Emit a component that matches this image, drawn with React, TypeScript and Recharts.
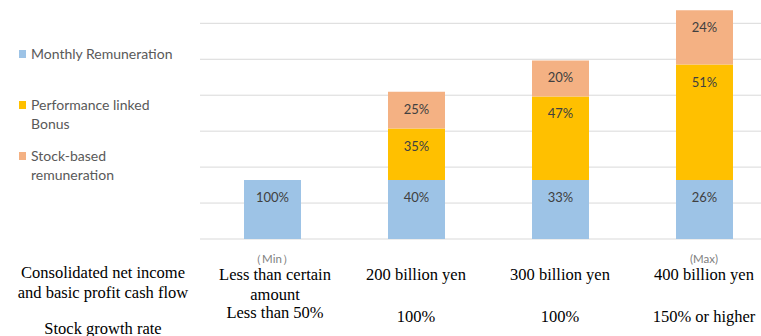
import { Bar, BarChart, CartesianGrid, LabelList, XAxis, YAxis } from "recharts";

// Each bar is drawn to scale against the same monthly amount (=100),
// the labels show each part's share of that bar's total.
const levels = ["min", "200", "300", "400"];
const monthly = [100, 100, 100, 100];
const bonus = [0, 87.5, 142, 196];
const stock = [0, 62.5, 61, 92];
const monthlyPct = [100, 40, 33, 26];
const bonusPct = [null, 35, 47, 51];
const stockPct = [null, 25, 20, 24];

const incomeLines = [["Less than certain", "amount"], ["200 billion yen"], ["300 billion yen"], ["400 billion yen"]];
const growthLabels = ["Less than 50%", "100%", "100%", "150% or higher"];
const markers = ["（Min）", "", "", "(Max)"];
const rowLabels = ["Consolidated net income", "and basic profit cash flow", "Stock growth rate"];

const gridTicks = [0, 61, 122, 183, 244, 305, 366];

const SERIES = [
  { key: "monthly", pct: "monthlyPct", label: "Monthly Remuneration", color: "#9DC3E6" },
  { key: "bonus", pct: "bonusPct", label: "Performance linked Bonus", color: "#FFC000" },
  { key: "stock", pct: "stockPct", label: "Stock-based remuneration", color: "#F4B183" },
];

const data = levels.map((l, i) => ({
  level: l,
  monthly: monthly[i],
  bonus: bonus[i],
  stock: stock[i],
  monthlyPct: monthlyPct[i],
  bonusPct: bonusPct[i],
  stockPct: stockPct[i],
}));

const serif = "'Liberation Serif', 'Times New Roman', serif";
const sans = "Lato, 'Open Sans', sans-serif";

function PctLabel(props: any) {
  const vb = props.viewBox ?? props;
  if (props.value == null) return null;
  return (
    <text
      x={vb.x + vb.width / 2}
      y={vb.y + 17}
      textAnchor="middle"
      dominantBaseline="central"
      fill="#404040"
      fontSize={13}
      fontFamily={sans}
    >
      {props.value}%
    </text>
  );
}

function LevelTick(props: any) {
  const { x, y, index } = props;
  const lines = incomeLines[index];
  const shift = lines.length > 1 ? 3 : 0;
  const growthY = lines.length > 1 ? 73 : 77;
  return (
    <g>
      {markers[index] && (
        <text x={x} y={y + 19} textAnchor="middle" dominantBaseline="central" fill="#808080" fontSize={11.5} fontFamily={sans}>
          {markers[index]}
        </text>
      )}
      {lines.map((t, k) => (
        <text key={k} x={x + shift} y={y + 35 + k * 20} textAnchor="middle" dominantBaseline="central" fill="#000" fontSize={16.5} fontFamily={serif}>
          {t}
        </text>
      ))}
      <text x={x + shift} y={y + growthY} textAnchor="middle" dominantBaseline="central" fill="#000" fontSize={16.5} fontFamily={serif}>
        {growthLabels[index]}
      </text>
    </g>
  );
}

export default function App() {
  return (
    <div style={{ position: "fixed", left: 0, top: 0, width: 761, height: 336, overflow: "hidden", background: "#fff" }}>
      <BarChart width={776} height={336} data={data} margin={{ top: 8, right: 0, left: 200, bottom: 0 }} barSize={57}>
        <CartesianGrid vertical={false} stroke="#D9D9D9" horizontalValues={gridTicks} />
        <YAxis hide domain={[0, 392]} ticks={gridTicks} />
        <XAxis
          dataKey="level"
          height={97}
          axisLine={false}
          tickLine={false}
          tickSize={0}
          tickMargin={0}
          interval={0}
          tick={<LevelTick />}
        />
        {SERIES.map((s) => (
          <Bar key={s.key} dataKey={s.key} stackId="a" fill={s.color} isAnimationActive={false}>
            <LabelList dataKey={s.pct} content={<PctLabel />} />
          </Bar>
        ))}
      </BarChart>

      {/* legend on the left */}
      <div style={{ position: "absolute", left: 19, top: 0, fontFamily: sans, fontSize: 14, color: "#595959", lineHeight: "19px" }}>
        {SERIES.map((s, i) => (
          <div key={s.key} style={{ position: "absolute", top: [44, 95, 146][i], left: 0, width: 160 }}>
            <span style={{ position: "absolute", left: 0, top: 6, width: 7, height: 8, background: s.color }} />
            <div style={{ marginLeft: 12, width: i === 0 ? 180 : 130 }}>{s.label}</div>
          </div>
        ))}
      </div>

      {/* row captions under the legend */}
      <div style={{ position: "absolute", left: 3, width: 200, top: 0, fontFamily: serif, fontSize: 16.5, color: "#000", textAlign: "center" }}>
        {rowLabels.map((t, i) => (
          <div key={i} style={{ position: "absolute", left: 0, width: 200, top: [263, 283, 319][i], lineHeight: "20px" }}>
            {t}
          </div>
        ))}
      </div>
    </div>
  );
}
